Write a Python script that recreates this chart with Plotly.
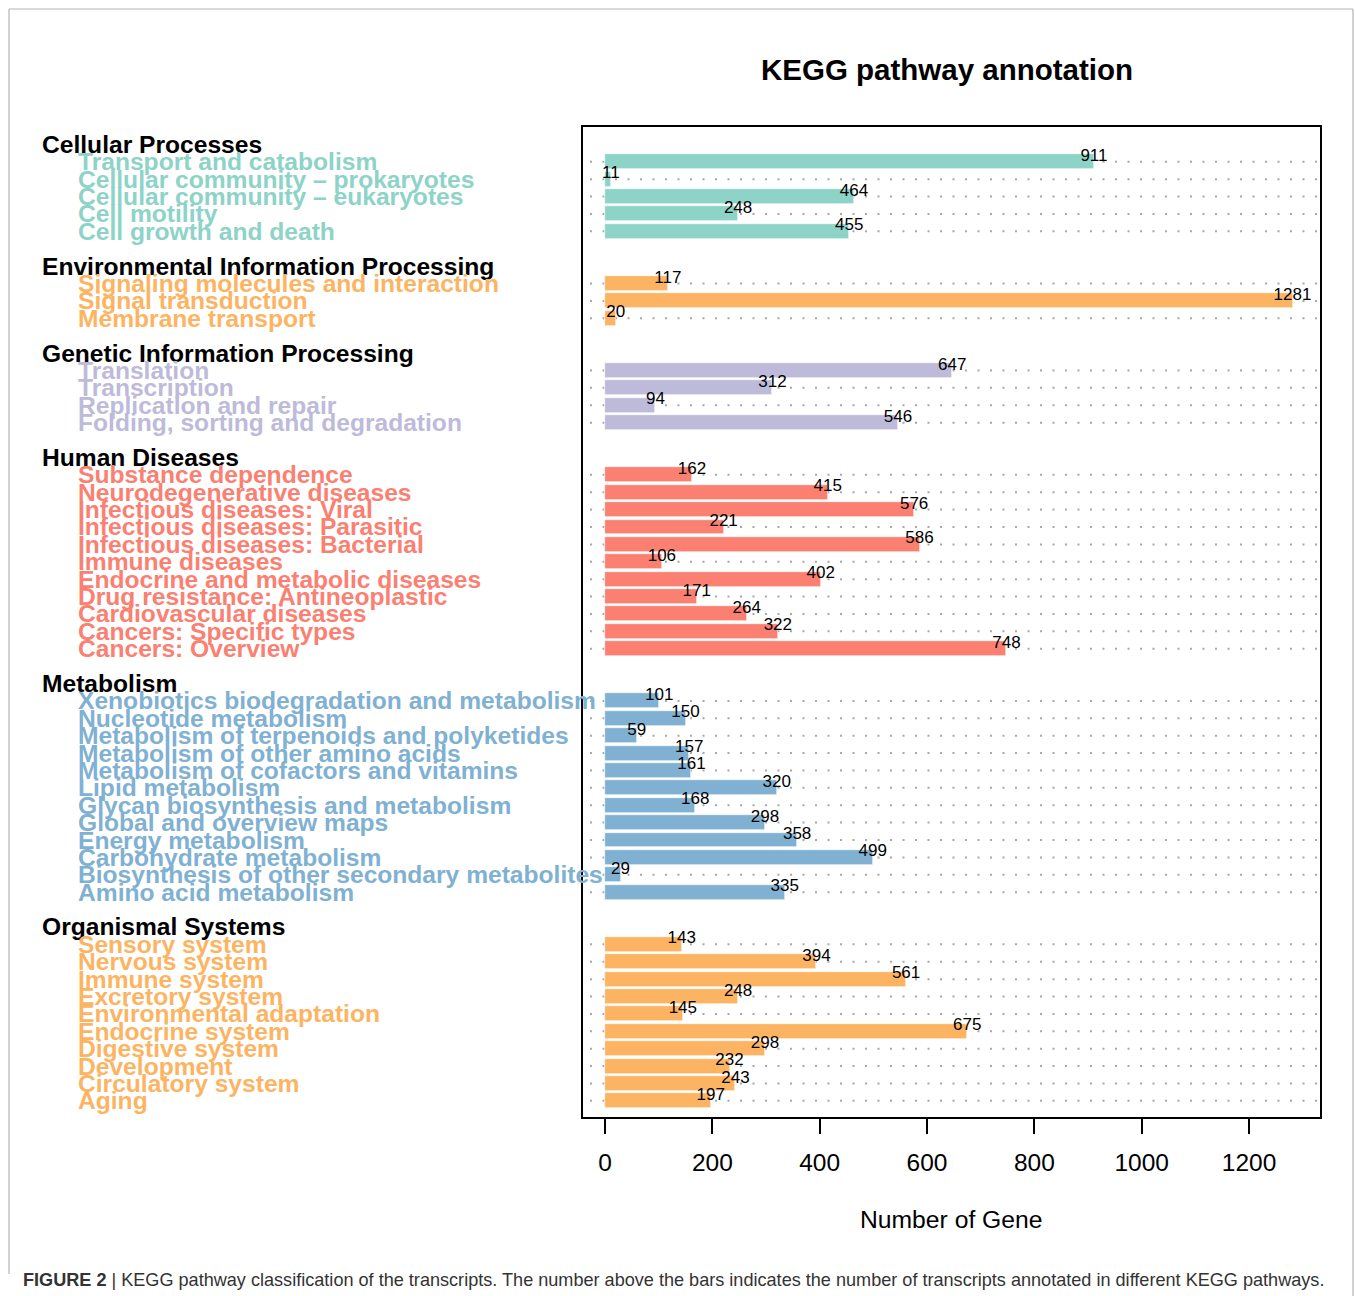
import plotly.graph_objects as go

# ---- data -------------------------------------------------------------
groups = [
    "Cellular Processes",
    "Environmental Information Processing",
    "Genetic Information Processing",
    "Human Diseases",
    "Metabolism",
    "Organismal Systems",
]

cellular_terms = ["Transport and catabolism", "Cellular community \u2013 prokaryotes",
                  "Cellular community \u2013 eukaryotes", "Cell motility", "Cell growth and death"]
cellular_counts = [911, 11, 464, 248, 455]

environmental_terms = ["Signaling molecules and interaction", "Signal transduction", "Membrane transport"]
environmental_counts = [117, 1281, 20]

genetic_terms = ["Translation", "Transcription", "Replication and repair",
                 "Folding, sorting and degradation"]
genetic_counts = [647, 312, 94, 546]

disease_terms = ["Substance dependence", "Neurodegenerative diseases", "Infectious diseases: Viral",
                 "Infectious diseases: Parasitic", "Infectious diseases: Bacterial", "Immune diseases",
                 "Endocrine and metabolic diseases", "Drug resistance: Antineoplastic",
                 "Cardiovascular diseases", "Cancers: Specific types", "Cancers: Overview"]
disease_counts = [162, 415, 576, 221, 586, 106, 402, 171, 264, 322, 748]

metabolism_terms = ["Xenobiotics biodegradation and metabolism", "Nucleotide metabolism",
                    "Metabolism of terpenoids and polyketides", "Metabolism of other amino acids",
                    "Metabolism of cofactors and vitamins", "Lipid metabolism",
                    "Glycan biosynthesis and metabolism", "Global and overview maps",
                    "Energy metabolism", "Carbohydrate metabolism",
                    "Biosynthesis of other secondary metabolites", "Amino acid metabolism"]
metabolism_counts = [101, 150, 59, 157, 161, 320, 168, 298, 358, 499, 29, 335]

organismal_terms = ["Sensory system", "Nervous system", "Immune system", "Excretory system",
                    "Environmental adaptation", "Endocrine system", "Digestive system",
                    "Development", "Circulatory system", "Aging"]
organismal_counts = [143, 394, 561, 248, 145, 675, 298, 232, 243, 197]

group_colors = ["#8DD3C7", "#FDB462", "#BEBADA", "#FB8072", "#80B1D3", "#FDB462"]

x_ticks = [0, 200, 400, 600, 800, 1000, 1200]

# ---- layout geometry (pixels) ----------------------------------------
W, H = 1355, 1296
L, R, T, B = 583, 1320, 127, 1117          # plot box edges
FONT = "Liberation Sans, Arial, Helvetica, sans-serif"


def px_x(x):
    return (x - L) / (R - L)


def px_y(y):
    return (B - y) / (B - T)


terms_by_group = [cellular_terms, environmental_terms, genetic_terms,
                  disease_terms, metabolism_terms, organismal_terms]
counts_by_group = [cellular_counts, environmental_counts, genetic_counts,
                   disease_counts, metabolism_counts, organismal_counts]

fig = go.Figure()
annotations = []
shapes = []

row = 0
for g, (name, terms, counts, col) in enumerate(zip(groups, terms_by_group,
                                                   counts_by_group, group_colors)):
    rows = list(range(row, row + len(terms)))
    # group header sits one row above its first bar
    annotations.append(dict(
        text="<b>%s</b>" % name, xref="paper", yref="y",
        x=px_x(40), y=rows[0] - 1, xanchor="left", yanchor="middle",
        showarrow=False, font=dict(family=FONT, size=24.6, color="black")))
    for r, term in zip(rows, terms):
        annotations.append(dict(
            text="<b>%s</b>" % term, xref="paper", yref="y",
            x=px_x(76), y=r, xanchor="left", yanchor="middle",
            showarrow=False, font=dict(family=FONT, size=24.6, color=col)))
        # dotted guide line across the panel
        shapes.append(dict(
            type="line", xref="paper", yref="y", x0=px_x(590), x1=px_x(1317),
            y0=r, y1=r, layer="below",
            line=dict(color="#a8a8a8", width=2, dash="2px,10.5px")))
    fig.add_trace(go.Bar(
        x=counts, y=rows, orientation="h", width=0.86,
        marker=dict(color=col, line=dict(color="white", width=0.6)),
        showlegend=False, hoverinfo="x+y"))
    fig.add_trace(go.Scatter(
        x=counts, y=[r - 0.3 for r in rows], mode="text",
        text=[str(c) for c in counts], textposition="middle center",
        textfont=dict(family=FONT, size=17, color="black"),
        showlegend=False, hoverinfo="skip"))
    row += len(terms) + 2

PX_PER_ROW = 17.39
y_top = -(161.8 - T) / PX_PER_ROW
y_bot = y_top + (B - T) / PX_PER_ROW

# title
annotations.append(dict(
    text="<b>KEGG pathway annotation</b>", xref="paper", yref="paper",
    x=px_x(947), y=px_y(70), xanchor="center", yanchor="middle",
    showarrow=False, font=dict(family=FONT, size=29.5, color="black")))

# x-axis title
annotations.append(dict(
    text="Number of Gene", xref="paper", yref="paper",
    x=px_x(951), y=px_y(1219), xanchor="center", yanchor="middle",
    showarrow=False, font=dict(family=FONT, size=24.7, color="black")))

# caption
annotations.append(dict(
    text="<b>FIGURE 2</b> | KEGG pathway classification of the transcripts. "
         "The number above the bars indicates the number of transcripts "
         "annotated in different KEGG pathways.",
    xref="paper", yref="paper", x=px_x(21), y=px_y(1280),
    xanchor="left", yanchor="middle", showarrow=False,
    font=dict(family=FONT, size=18.1, color="#333333")))

# outer figure frame (open at the bottom)
frame = dict(color="#b4b4b4", width=1.2)
shapes.append(dict(type="line", xref="paper", yref="paper",
                   x0=px_x(9), x1=px_x(1353), y0=px_y(9), y1=px_y(9), line=frame))
shapes.append(dict(type="line", xref="paper", yref="paper",
                   x0=px_x(9), x1=px_x(9), y0=px_y(9), y1=px_y(1274), line=frame))
shapes.append(dict(type="line", xref="paper", yref="paper",
                   x0=px_x(1353), x1=px_x(1353), y0=px_y(9), y1=px_y(1296), line=frame))

# value axis scale: 0 at x=605 px, 0.5367 px per gene
x0_px, per = 605.0, 0.5367
x_lo = (L - x0_px) / per
x_hi = (R - x0_px) / per

fig.update_layout(
    width=W, height=H,
    margin=dict(l=L, r=W - R, t=T, b=H - B, pad=0),
    paper_bgcolor="white", plot_bgcolor="white",
    bargap=0, barmode="overlay",
    annotations=annotations, shapes=shapes,
    font=dict(family=FONT, color="black"),
    xaxis=dict(range=[x_lo, x_hi], tickvals=x_ticks, ticktext=[str(v) for v in x_ticks],
               ticks="outside", ticklen=15, tickwidth=2, tickcolor="black",
               showline=True, mirror=True, linecolor="black", linewidth=2,
               showgrid=False, zeroline=False,
               tickfont=dict(family=FONT, size=24.5, color="black"),
               ticklabelstandoff=8),
    yaxis=dict(range=[y_bot, y_top], showticklabels=False, ticks="",
               showline=True, mirror=True, linecolor="black", linewidth=2,
               showgrid=False, zeroline=False),
)

fig.write_html("out.html")
